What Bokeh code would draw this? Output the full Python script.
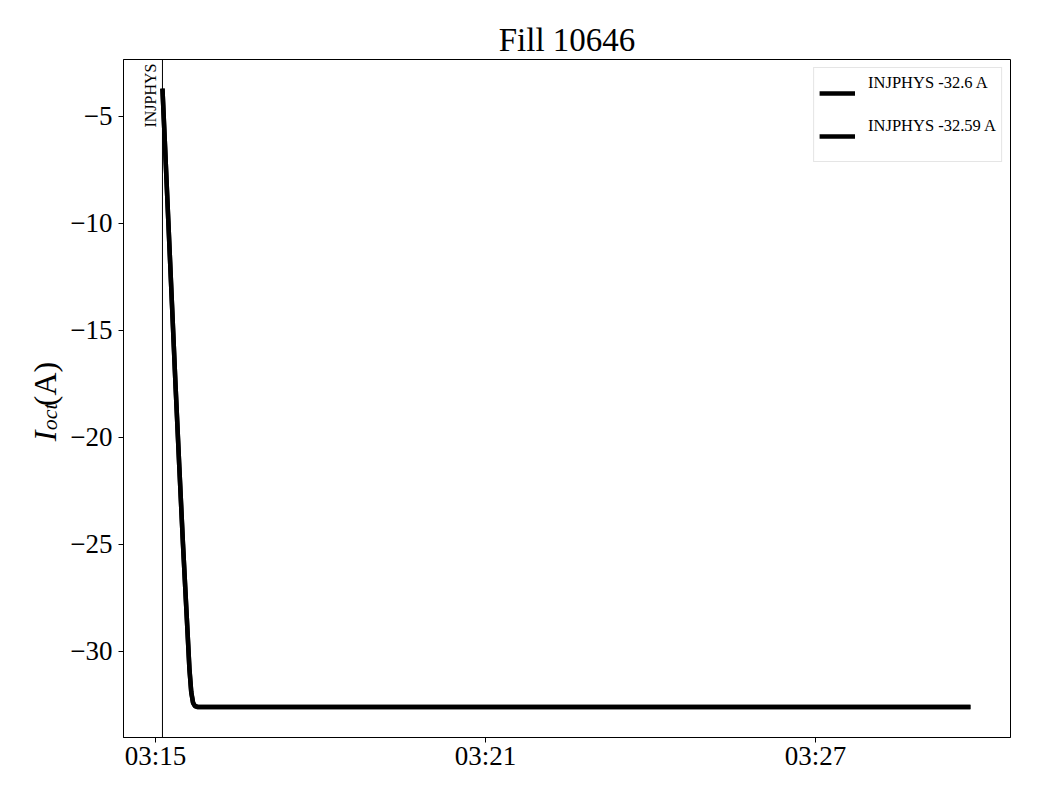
import math
import numpy as np
import pandas as pd
from bokeh.plotting import figure
from bokeh.layouts import row
from bokeh.models import (ColumnDataSource, Range1d, FixedTicker, DatetimeTickFormatter,
                          Span, Label, Legend, LegendItem)
from bokeh.embed import file_html
from bokeh.resources import INLINE

# ---------------- data ----------------
title_text = "Fill 10646"
base_time = "2025-01-01 03:15:00"
# seconds after 03:15:00
t_sec = [7.6, 10, 14, 18, 22, 26, 30, 34, 37, 39, 41, 43, 46, 889]
series1 = [-3.7, -6.0, -9.9, -13.8, -17.7, -21.4, -25.0, -28.3, -30.8, -31.9, -32.4, -32.55, -32.6, -32.6]
series2 = [-3.7, -6.0, -9.9, -13.8, -17.7, -21.4, -25.0, -28.3, -30.8, -31.9, -32.4, -32.54, -32.59, -32.59]
series_labels = ["INJPHYS -32.6 A", "INJPHYS -32.59 A"]
event_sec = 7.6
event_label = "INJPHYS"
x_tick_sec = [0, 360, 720]
y_ticks = [-5, -10, -15, -20, -25, -30]
x_range_sec = (-34.9, 932.7)
y_range = (-34.02, -2.34)
ylabel_parts = ["I", "oct", "(A)"]

FONT = "Liberation Serif"

base = pd.Timestamp(base_time)
def ts(s):
    return base + pd.Timedelta(seconds=s)
def ms(s):
    return ts(s).value / 1e6

TOTAL_H = 792
LW = 66                      # width of the strip holding the y-axis title
FW, FH = 887, 678
BL, BT = 123 - LW, 59

# ---------------- strip with the y-axis title ----------------
lab = figure(output_backend="svg", toolbar_location=None, width=LW, height=TOTAL_H,
             x_range=Range1d(0, LW), y_range=Range1d(0, TOTAL_H),
             x_axis_location=None, y_axis_location=None,
             min_border=0, min_border_left=0, min_border_right=0,
             min_border_top=0, min_border_bottom=0)
lab.grid.visible = False
lab.outline_line_color = None
lab.background_fill_color = "white"
lab.border_fill_color = "white"

def put(txt, px, py, size, style):
    # px, py: position inside the strip of the text's baseline start
    lab.add_layout(Label(x=px, y=TOTAL_H - py, text=txt, angle=math.pi / 2, text_align="left",
                         text_baseline="alphabetic", text_font=FONT, text_font_size=size,
                         text_font_style=style, text_color="black"))

# italic I, italic subscript "oct", upright (A)
put(ylabel_parts[0], 44, 446, "32px", "italic")
put(ylabel_parts[1], 49, 433, "22px", "italic")
put(ylabel_parts[2], 44, 405, "32px", "normal")

# ---------------- main figure ----------------
p = figure(output_backend="svg", toolbar_location=None,
           frame_width=FW, frame_height=FH,
           min_border_left=BL, min_border_right=22, min_border_top=BT, min_border_bottom=55,
           x_axis_type="datetime",
           x_range=Range1d(ms(x_range_sec[0]), ms(x_range_sec[1])),
           y_range=Range1d(*y_range),
           title=title_text)

p.title.align = "center"
p.title.text_font = FONT
p.title.text_font_size = "33px"
p.title.text_font_style = "normal"
p.title.text_color = "black"
p.title.standoff = 4

p.grid.visible = False
p.outline_line_color = "black"
p.outline_line_width = 1
p.outline_line_alpha = 1
p.background_fill_color = "white"
p.border_fill_color = "white"

for ax in (p.xaxis[0], p.yaxis[0]):
    ax.axis_line_color = "black"
    ax.major_tick_line_color = "black"
    ax.minor_tick_line_color = None
    ax.major_tick_out = 5
    ax.major_tick_in = 0
    ax.major_label_text_font = FONT
    ax.major_label_text_font_size = "27px"
    ax.major_label_text_color = "black"

p.xaxis[0].ticker = FixedTicker(ticks=[ms(s) for s in x_tick_sec])
p.xaxis[0].formatter = DatetimeTickFormatter(seconds="%H:%M", minsec="%H:%M", minutes="%H:%M",
                                             hourmin="%H:%M", hours="%H:%M")
p.xaxis[0].major_label_standoff = -2
p.yaxis[0].ticker = FixedTicker(ticks=y_ticks)
p.yaxis[0].major_label_overrides = {v: ("\u2212" + str(abs(v)) if v < 0 else str(v)) for v in y_ticks}
p.yaxis[0].major_label_standoff = 6

xs = [ts(s) for s in t_sec]
src1 = ColumnDataSource(dict(x=xs, y=series1))
src2 = ColumnDataSource(dict(x=xs, y=series2))
r1 = p.line("x", "y", source=src1, line_color="black", line_width=4.5)
r2 = p.line("x", "y", source=src2, line_color="black", line_width=4.5)

span = Span(location=ms(event_sec), dimension="height", line_color="black", line_width=1)
p.add_layout(span)
p.add_layout(Label(x=ms(event_sec), y=y_range[1] - 0.19, text=event_label, angle=math.pi / 2,
                   text_align="right", text_baseline="bottom", x_offset=-3,
                   text_font=FONT, text_font_size="16px", text_color="black"))

legend = Legend(items=[LegendItem(label=series_labels[0] + "\n ", renderers=[r1]),
                       LegendItem(label=series_labels[1] + "\n ", renderers=[r2])],
                location="top_right")
legend.margin = 8
legend.padding = 5
legend.spacing = 3
legend.glyph_width = 36
legend.glyph_height = 38
legend.label_standoff = 13
legend.label_text_font = FONT
legend.label_text_font_size = "16.5px"
legend.label_text_color = "black"
legend.border_line_color = "#cccccc"
legend.border_line_width = 1
legend.background_fill_alpha = 1
p.add_layout(legend)

layout = row(lab, p)
open("out.html", "w").write(file_html(layout, INLINE))
